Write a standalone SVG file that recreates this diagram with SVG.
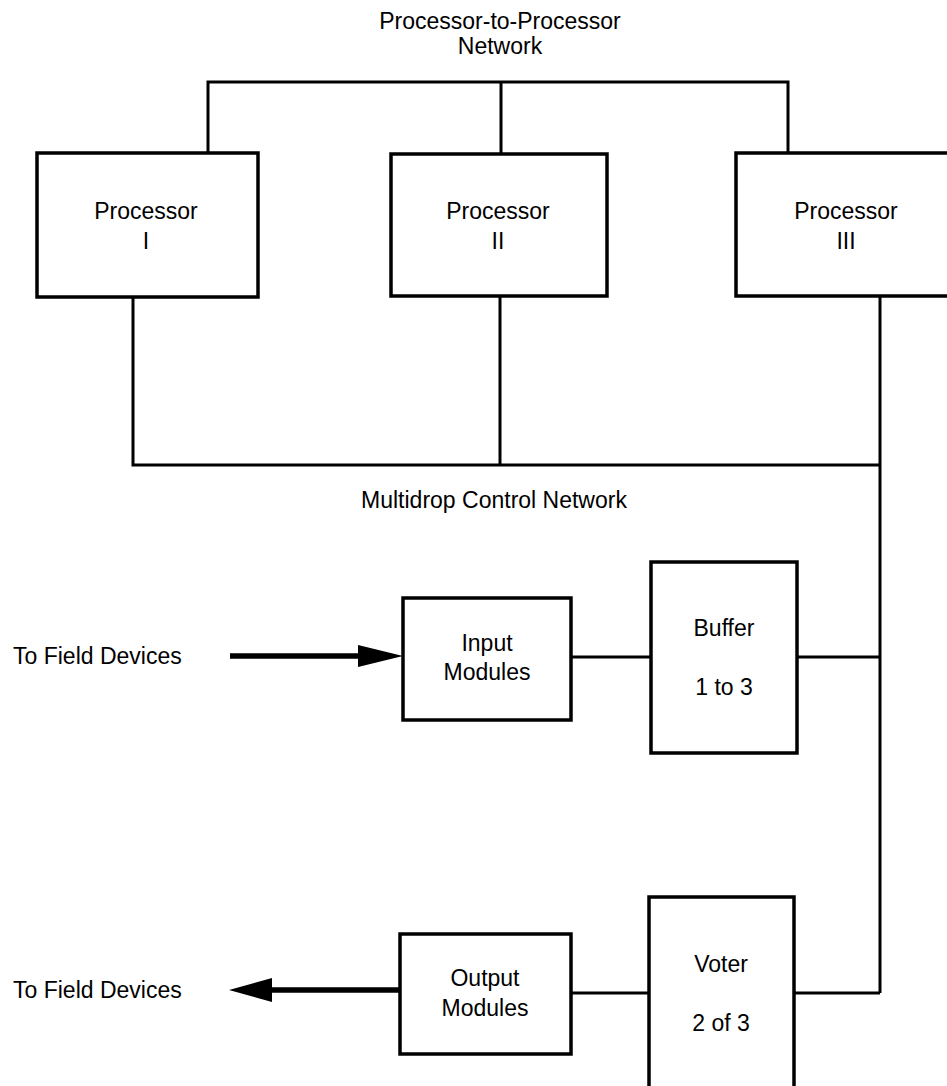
<svg xmlns="http://www.w3.org/2000/svg" width="947" height="1086" viewBox="0 0 947 1086">
<defs>
<style>
.box{fill:#fff;stroke:#000;stroke-width:3.5}
.ln{fill:none;stroke:#000;stroke-width:3}
.thick{fill:none;stroke:#000;stroke-width:5.5}
text{font-family:"Liberation Sans",Arial,sans-serif;font-size:23px;fill:#000;text-anchor:middle}
.lft{text-anchor:start}
</style>
</defs>
<rect width="947" height="1086" fill="#fff"/>
<g id="connectors">
<polyline class="ln" points="208,153 208,82 788,82 788,153"/>
<line class="ln" x1="501" y1="82" x2="501" y2="153"/>
<polyline class="ln" points="133,297 133,465 880,465"/>
<line class="ln" x1="500" y1="297" x2="500" y2="465"/>
<line class="ln" x1="880" y1="296" x2="880" y2="993"/>
<line class="ln" x1="571" y1="657" x2="652" y2="657"/>
<line class="ln" x1="797" y1="657" x2="880" y2="657"/>
<line class="ln" x1="571" y1="993" x2="650" y2="993"/>
<line class="ln" x1="794" y1="993" x2="880" y2="993"/>
<line class="thick" x1="230" y1="656" x2="365" y2="656"/>
<polygon points="403,656 358,645 358,667"/>
<line class="thick" x1="268" y1="990" x2="400" y2="990"/>
<polygon points="229,990 272,978 272,1002"/>
</g>
<g id="title"><text x="500" y="29">Processor-to-Processor</text><text x="500" y="54">Network</text></g>
<g id="proc1"><rect class="box" x="37" y="153" width="221" height="144"/><text x="146" y="219">Processor</text><text x="146" y="249">I</text></g>
<g id="proc2"><rect class="box" x="391" y="154" width="216" height="142"/><text x="498" y="219">Processor</text><text x="498" y="249">II</text></g>
<g id="proc3"><rect class="box" x="736" y="153" width="214" height="143"/><text x="846" y="219">Processor</text><text x="846" y="249">III</text></g>
<g id="mcn"><text x="494" y="508">Multidrop Control Network</text></g>
<g id="in-label"><text class="lft" x="13" y="664">To Field Devices</text></g>
<g id="input"><rect class="box" x="403" y="598" width="168" height="122"/><text x="487" y="651">Input</text><text x="487" y="680">Modules</text></g>
<g id="buffer"><rect class="box" x="651" y="562" width="146" height="191"/><text x="724" y="636">Buffer</text><text x="724" y="695">1 to 3</text></g>
<g id="out-label"><text class="lft" x="13" y="998">To Field Devices</text></g>
<g id="output"><rect class="box" x="400" y="934" width="171" height="120"/><text x="485" y="986">Output</text><text x="485" y="1016">Modules</text></g>
<g id="voter"><rect class="box" x="649" y="897" width="145" height="200"/><text x="721" y="972">Voter</text><text x="721" y="1031">2 of 3</text></g>
</svg>
